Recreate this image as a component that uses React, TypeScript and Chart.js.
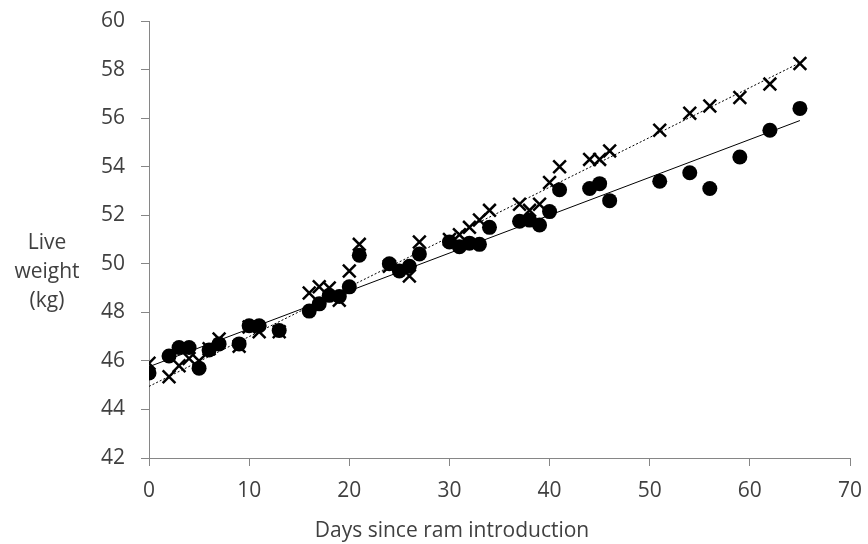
import React, { useEffect, useRef } from "react";
import { Chart, registerables } from "chart.js";

Chart.register(...registerables);

// Days since ram introduction
const days = [0, 2, 3, 4, 5, 6, 7, 9, 10, 11, 13, 16, 17, 18, 19, 20, 21, 24, 25, 26, 27, 30, 31, 32, 33, 34, 37, 38, 39, 40, 41, 44, 45, 46, 51, 54, 56, 59, 62, 65];
// Live weight (kg), circle series
const circleWeights = [45.5, 46.2, 46.55, 46.55, 45.7, 46.45, 46.7, 46.7, 47.45, 47.45, 47.25, 48.05, 48.35, 48.7, 48.65, 49.05, 50.35, 50.0, 49.7, 49.9, 50.4, 50.9, 50.7, 50.85, 50.8, 51.5, 51.75, 51.8, 51.6, 52.15, 53.05, 53.1, 53.3, 52.6, 53.4, 53.75, 53.1, 54.4, 55.5, 56.4];
// Live weight (kg), cross series
const crossWeights = [45.9, 45.35, 45.8, 46.1, 46.0, 46.5, 46.9, 46.6, 47.4, 47.2, 47.2, 48.8, 49.05, 49.0, 48.5, 49.7, 50.8, 49.9, null, 49.5, 50.9, 51.0, 51.2, 51.5, 51.8, 52.2, 52.45, 52.2, 52.45, 53.35, 54.0, 54.3, 54.3, 54.65, 55.5, 56.2, 56.5, 56.85, 57.4, 58.25];
// Linear trend lines (endpoints)
const trendDays = [0, 65];
const circleTrend = [45.76, 55.9];
const crossTrend = [44.95, 58.28];

const xTicks = [0, 10, 20, 30, 40, 50, 60, 70];
const yTicks = [42, 44, 46, 48, 50, 52, 54, 56, 58, 60];

const xTitle = "Days since ram introduction";
const yTitleLines = ["Live", "weight", "(kg)"];

const FONT = "'Open Sans', 'Liberation Sans', sans-serif";
const TEXT = "#404040";
const AXIS = "#868686";

export default function App() {
  const ref = useRef<HTMLCanvasElement | null>(null);

  useEffect(() => {
    if (!ref.current) return;
    const toPts = (xs: number[], ys: (number | null)[]) =>
      xs.map((x, i) => ({ x, y: ys[i] })).filter((p) => p.y !== null);

    const titles = {
      id: "titles",
      afterDraw(chart: any) {
        const ctx = chart.ctx;
        ctx.save();
        ctx.fillStyle = TEXT;
        ctx.font = `21px ${FONT}`;
        ctx.textAlign = "center";
        ctx.textBaseline = "middle";
        ctx.fillText(xTitle, 452, 531);
        yTitleLines.forEach((t, i) => ctx.fillText(t, 47, 243 + i * 29));
        ctx.restore();
      },
    };

    const zeroPad = (s: any) => {
      s.paddingTop = 0;
      s.paddingBottom = 0;
      s.paddingLeft = 0;
      s.paddingRight = 0;
    };

    const chart = new Chart(ref.current, {
      type: "scatter",
      data: {
        datasets: [
          {
            type: "line",
            data: toPts(trendDays, circleTrend),
            borderColor: "#000",
            borderWidth: 1,
            pointRadius: 0,
            fill: false,
          },
          {
            type: "line",
            data: toPts(trendDays, crossTrend),
            borderColor: "#000",
            borderWidth: 1,
            borderDash: [2, 2],
            pointRadius: 0,
            fill: false,
          },
          {
            data: toPts(days, crossWeights),
            pointStyle: "crossRot",
            pointRadius: 9,
            borderColor: "#000",
            backgroundColor: "#000",
            borderWidth: 2.5,
          },
          {
            data: toPts(days, circleWeights),
            pointStyle: "circle",
            pointRadius: 7.5,
            borderColor: "#000",
            backgroundColor: "#000",
            borderWidth: 0,
          },
        ],
      } as any,
      options: {
        responsive: false,
        animation: false,
        layout: { padding: { left: 0, right: 18, top: 21, bottom: 0 } },
        plugins: { legend: { display: false }, tooltip: { enabled: false } },
        scales: {
          x: {
            type: "linear",
            min: 0,
            max: 70,
            afterFit: (s: any) => { s.height = 86; zeroPad(s); },
            afterBuildTicks: (s: any) => { s.ticks = xTicks.map((v) => ({ value: v })); },
            grid: { drawOnChartArea: false, drawTicks: true, tickLength: 8, color: AXIS },
            border: { display: true, color: AXIS, width: 1 },
            ticks: { padding: 12, color: TEXT, font: { family: FONT, size: 21 }, maxRotation: 0 },
          },
          y: {
            type: "linear",
            min: 42,
            max: 60,
            afterFit: (s: any) => { s.width = 149; zeroPad(s); },
            afterBuildTicks: (s: any) => { s.ticks = yTicks.map((v) => ({ value: v })); },
            grid: { drawOnChartArea: false, drawTicks: true, tickLength: 8, color: AXIS },
            border: { display: true, color: AXIS, width: 1 },
            ticks: { padding: 16, color: TEXT, font: { family: FONT, size: 21 } },
          },
        },
      },
      plugins: [titles],
    });
    return () => chart.destroy();
  }, []);

  return (
    <div style={{ position: "fixed", left: 0, top: 0, width: 868, height: 544, background: "#fff" }}>
      <canvas ref={ref} width={868} height={544} style={{ width: 868, height: 544 }} />
    </div>
  );
}
